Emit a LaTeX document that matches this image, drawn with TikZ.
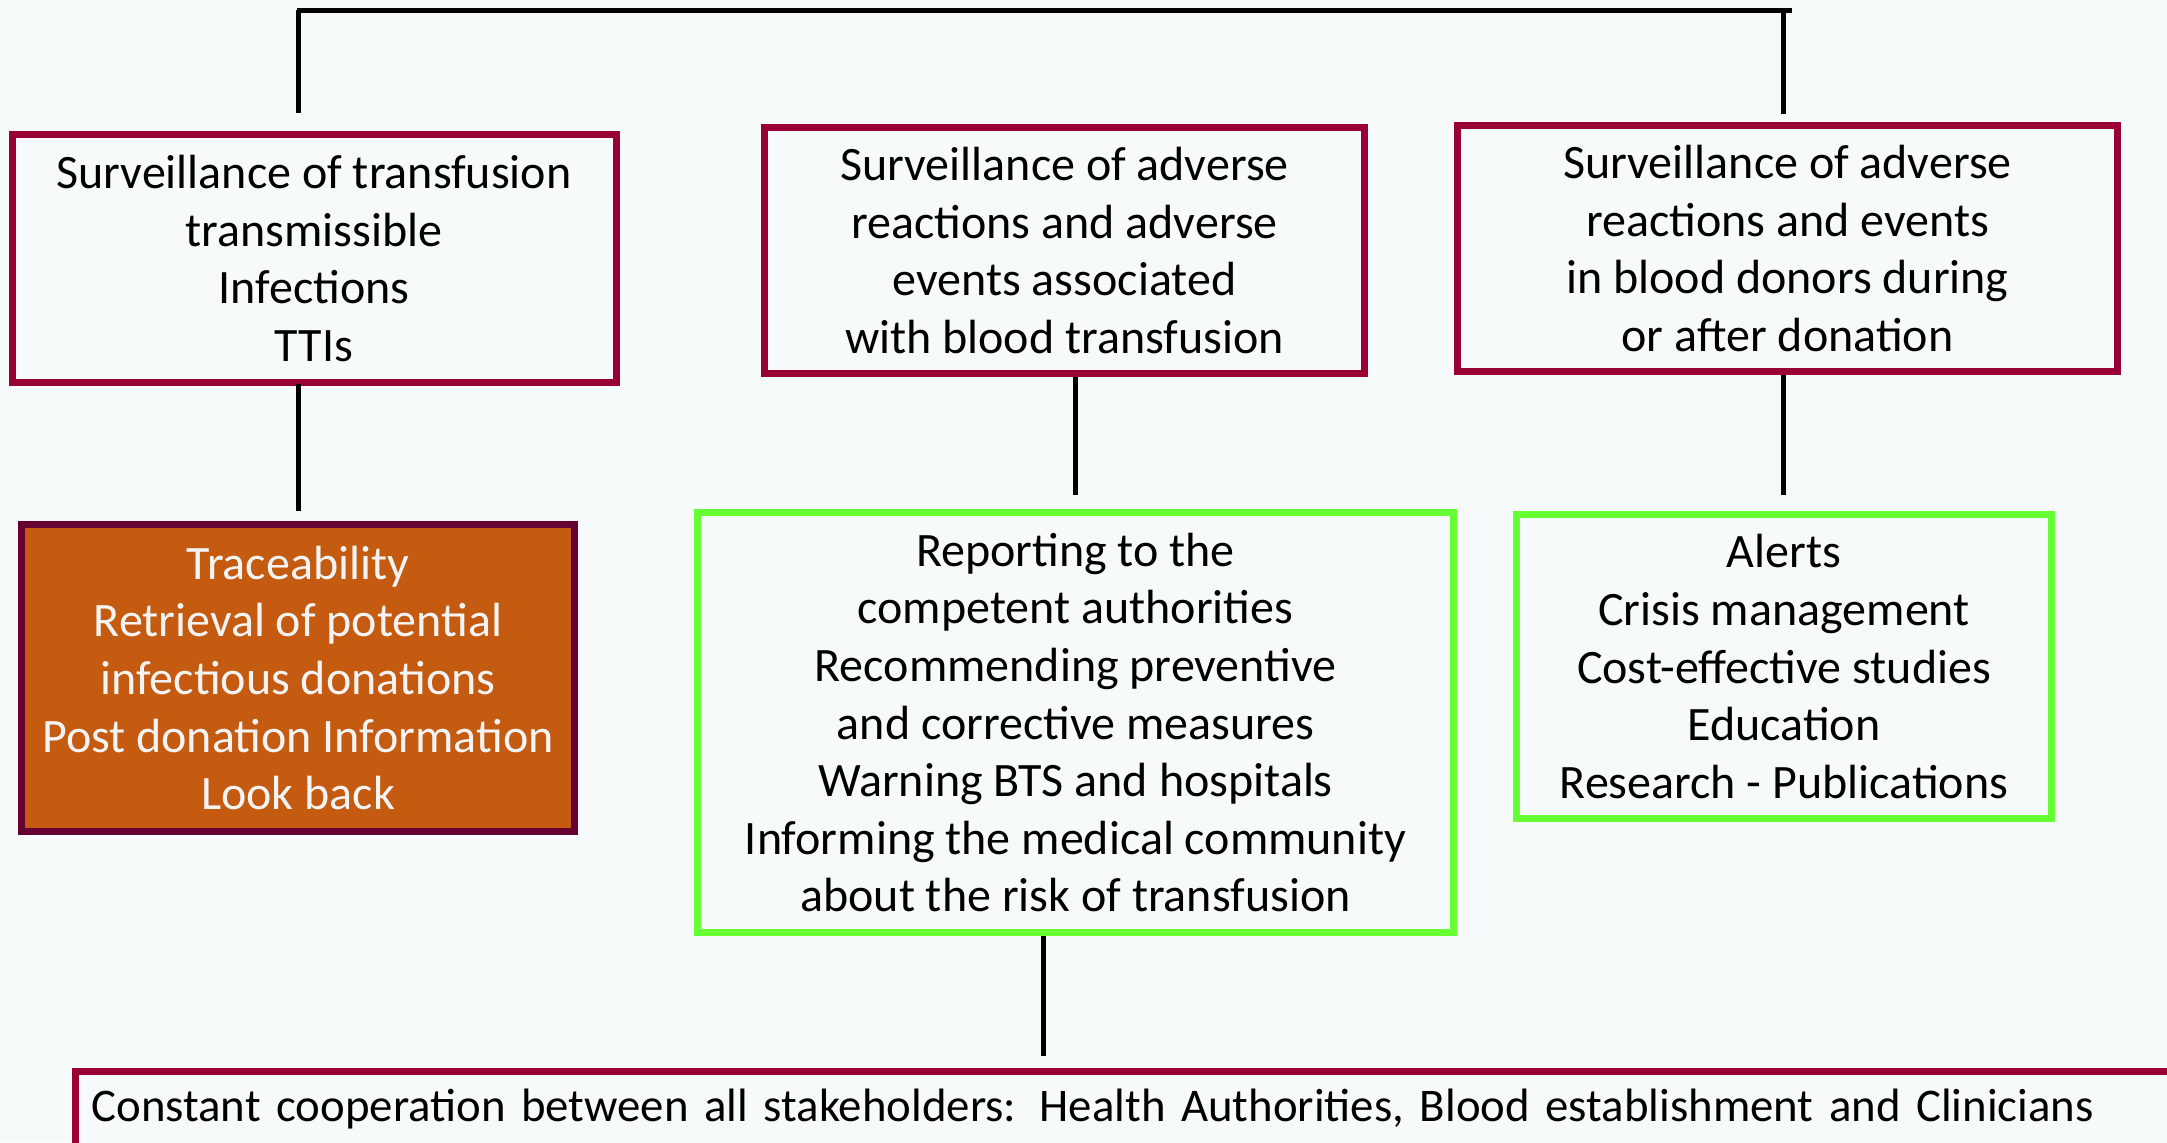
\documentclass[tikz,border=0pt]{standalone}
\usepackage{fontspec}
\setmainfont{Carlito}
\definecolor{bg}{HTML}{F6FAFB}
\definecolor{crim}{HTML}{990033}
\definecolor{grn}{HTML}{66FF33}
\definecolor{orng}{HTML}{C55A11}
\definecolor{maroon}{HTML}{660033}
\definecolor{wtxt}{HTML}{F4F4F4}
\tikzset{
  redbox/.style={draw=crim, line width=3.5pt, fill=bg, align=center, inner sep=0pt},
  greenbox/.style={draw=grn, line width=3.5pt, fill=bg, align=center, inner sep=0pt},
  orangebox/.style={draw=maroon, line width=3.5pt, fill=orng, text=wtxt, align=center, inner sep=0pt},
  conn/.style={line width=2.5pt, black},
  txt/.style={font=\fontsize{24}{28.8}\selectfont}
}
\begin{document}
\begin{tikzpicture}[x=0.5pt,y=-0.5pt]
\fill[bg] (0,0) rectangle (2167,1142);
\useasboundingbox (0,0) rectangle (2167,1142);
\clip (0,0) rectangle (2167,1142);
\node[redbox, txt, minimum width=302pt, minimum height=124pt] (A) at (314,258.5)
  {Surveillance of transfusion\\transmissible\\Infections\\TTIs};
\node[redbox, txt, minimum width=300pt, minimum height=123pt] (B) at (1064.5,250.5)
  {Surveillance of adverse\\reactions and adverse\\events associated\\with blood transfusion};
\node[redbox, txt, minimum width=330pt, minimum height=123pt] (C) at (1787.5,248.5)
  {Surveillance of adverse\\reactions and events\\in blood donors during\\or after donation};
\node[orangebox, txt, minimum width=276.5pt, minimum height=153.5pt] (D) at (298,678)
  {Traceability\\Retrieval of potential\\infectious donations\\Post donation Information\\Look back};
\node[greenbox, txt, minimum width=378pt, minimum height=210pt] (E) at (1075.5,722.5)
  {Reporting to the\\competent authorities\\Recommending preventive\\and corrective measures\\Warning BTS and hospitals\\Informing the medical community\\about the risk of transfusion};
\node[greenbox, txt, minimum width=267.5pt, minimum height=152pt] (F) at (1784,666.5)
  {Alerts\\Crisis management\\Cost-effective studies\\Education\\Research - Publications};
\node[redbox, font=\fontsize{23.4}{28}\selectfont, minimum height=38.5pt, anchor=north west,
      align=left, text width=1045pt, inner xsep=8pt, inner ysep=0pt] (G) at (72,1067.5)
  {Constant cooperation between all stakeholders: Health Authorities, Blood establishment and Clinicians};
\coordinate (tl) at (297,10);
\coordinate (tr) at (1792,10);
\coordinate (ta) at (298,10);
\coordinate (tc) at (1783,10);
\draw[conn] (tl) -- (tr);
\draw[conn, shorten >=9pt] (ta) -- (ta |- A.north);
\draw[conn, shorten >=4pt] (tc) -- (tc |- C.north);
\coordinate (ad) at (298,386);
\draw[conn, shorten <=-1pt, shorten >=5pt] (ad) -- (ad |- D.north);
\coordinate (be) at (1075,377);
\draw[conn, shorten >=7pt] (be) -- (be |- E.north);
\coordinate (cf) at (1783,375);
\draw[conn, shorten >=8pt] (cf) -- (cf |- F.north);
\coordinate (eg) at (1043,936);
\draw[conn, shorten >=6pt] (eg) -- (eg |- G.north);
\end{tikzpicture}
\end{document}
